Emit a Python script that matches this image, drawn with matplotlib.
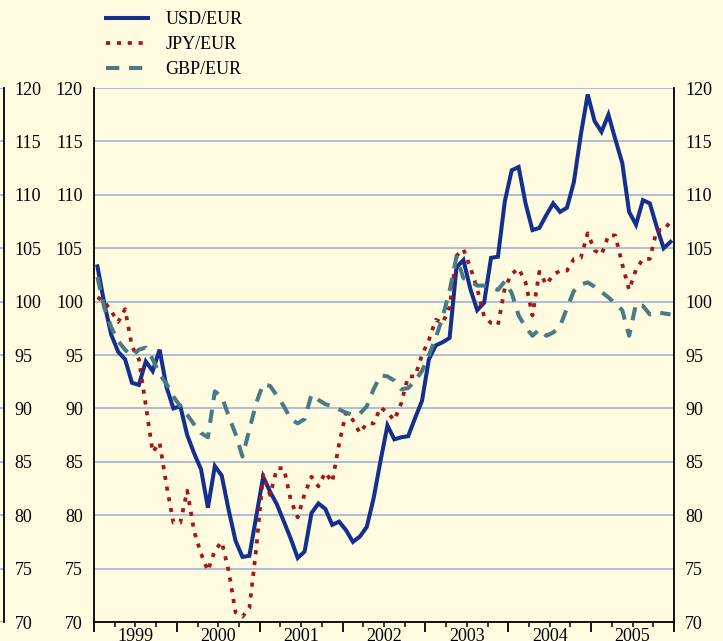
import matplotlib
matplotlib.use("Agg")
import matplotlib.pyplot as plt
import numpy as np

plt.rcParams["font.family"] = ["Liberation Serif", "DejaVu Serif"]
plt.rcParams["font.size"] = 13

# monthly index values, Jan 1999 - Dec 2005 (Q1 1999 = 100)
years = ["1999", "2000", "2001", "2002", "2003", "2004", "2005"]

usd_eur = [103.3, 99.8, 96.9, 95.3, 94.6, 92.4, 92.2, 94.4, 93.5, 95.5, 92.0, 90.0,
           90.2, 87.5, 85.8, 84.3, 80.7, 84.6, 83.7, 80.5, 77.6, 76.1, 76.2, 79.9,
           83.6, 82.2, 81.0, 79.4, 77.8, 76.0, 76.6, 80.2, 81.1, 80.6, 79.1, 79.4,
           78.6, 77.5, 78.0, 78.9, 81.6, 85.1, 88.4, 87.1, 87.3, 87.4, 89.1, 90.7,
           94.6, 95.9, 96.2, 96.6, 103.2, 103.9, 101.2, 99.2, 99.9, 104.1, 104.2, 109.4,
           112.3, 112.6, 109.2, 106.7, 106.9, 108.1, 109.2, 108.4, 108.8, 111.2, 115.6, 119.4,
           116.9, 115.9, 117.5, 115.2, 113.0, 108.4, 107.2, 109.5, 109.2, 107.0, 105.0, 105.6]

jpy_eur = [100.4, 100.0, 99.1, 98.1, 99.3, 95.8, 94.6, 90.3, 85.9, 86.8, 82.8, 79.3,
           79.3, 82.3, 78.5, 76.4, 74.8, 76.7, 77.5, 74.8, 70.9, 70.5, 71.3, 76.9,
           83.8, 81.9, 84.4, 84.4, 81.4, 79.8, 82.0, 83.6, 82.7, 84.0, 83.1, 86.7,
           89.6, 88.9, 87.7, 88.6, 88.6, 90.1, 89.6, 88.9, 90.5, 93.0, 93.0, 95.0,
           96.4, 98.3, 98.0, 99.5, 104.3, 104.9, 103.2, 101.2, 98.6, 98.0, 97.8, 101.3,
           102.6, 103.1, 101.8, 98.7, 102.8, 101.6, 102.5, 102.9, 102.9, 104.0, 104.1, 106.4,
           104.8, 104.4, 106.2, 106.2, 103.5, 101.1, 103.0, 104.0, 104.0, 106.7, 106.7, 107.5]

gbp_eur = [102.3, 99.4, 97.6, 96.3, 95.5, 94.9, 95.5, 95.7, 94.6, 93.2, 92.3, 91.1,
           90.2, 89.4, 88.5, 87.7, 87.3, 91.6, 91.1, 89.3, 87.6, 85.5, 88.0, 90.5,
           92.3, 92.1, 91.2, 90.2, 89.0, 88.6, 89.0, 91.3, 90.8, 90.4, 90.2, 89.9,
           89.6, 89.4, 89.5, 90.2, 91.8, 93.1, 93.0, 92.6, 91.8, 91.9, 92.6, 93.5,
           95.0, 96.6, 98.6, 101.0, 104.2, 102.2, 101.9, 101.5, 101.5, 101.3, 101.1, 101.9,
           100.8, 98.7, 97.6, 96.8, 97.4, 96.8, 97.1, 97.7, 99.4, 101.0, 101.6, 101.8,
           101.4, 100.9, 100.4, 99.8, 99.2, 96.8, 99.8, 99.6, 98.8, 99.0, 98.9, 98.8]

bg = "#fffbe1"
grid_col = "#a9b8d8"
usd_col = "#14308f"
jpy_col = "#a51717"
gbp_col = "#4a7b84"

months = np.arange(len(usd_eur)) + 0.5

fig = plt.figure(figsize=(7.23, 6.41), dpi=100, facecolor=bg)

# right edge of the neighbouring panel, clipped by the figure border
ax0 = fig.add_axes([-0.5, 0.0296, 0.5 + 3.5 / 723, 0.8331], facecolor=bg)
ax0.set_ylim(70, 120)
ax0.set_xlim(0, 1)
ax0.set_yticks(range(70, 121, 5))
ax0.yaxis.tick_right()
ax0.tick_params(axis="y", length=0, pad=8)
ax0.tick_params(axis="x", bottom=False, labelbottom=False)
ax0.grid(axis="y", color=grid_col, lw=1.3)
for side in ["top", "left", "bottom"]:
    ax0.spines[side].set_visible(False)
ax0.spines["right"].set_linewidth(1.3)

ax = fig.add_axes([94 / 723, 0.0296, 580 / 723, 0.8331], facecolor=bg)
ax.plot(months, usd_eur, color=usd_col, lw=2.9, solid_joinstyle="miter", label="USD/EUR")
ax.plot(months, jpy_eur, color=jpy_col, lw=2.7, linestyle=(0, (1.1, 1.8)),
        dash_capstyle="butt", label="JPY/EUR")
ax.plot(months, gbp_eur, color=gbp_col, lw=2.9, linestyle=(0, (3.3, 2.4)),
        dash_capstyle="butt", label="GBP/EUR")

ax.set_xlim(0, 84)
ax.set_ylim(70, 120)
ax.set_yticks(range(70, 121, 5))
ax.grid(axis="y", color=grid_col, lw=1.3, zorder=0)
ax.set_axisbelow(True)
ax.tick_params(axis="y", length=0, pad=8, labelleft=True, labelright=True)

# year boundaries (long ticks) and quarters (short ticks)
ax.set_xticks(range(0, 85, 12))
ax.set_xticks(range(0, 85, 3), minor=True)
ax.tick_params(axis="x", which="major", length=7, width=1.3, labelbottom=False)
ax.tick_params(axis="x", which="minor", length=3.5, width=1.1)

# year labels centred on each year
sec = ax.secondary_xaxis("bottom")
sec.set_xticks([6 + 12 * i for i in range(len(years))], labels=years)
sec.tick_params(length=0, pad=4)
sec.spines["bottom"].set_visible(False)

ax.spines["top"].set_visible(False)
for side in ["left", "right", "bottom"]:
    ax.spines[side].set_linewidth(1.3)

handles, labels = ax.get_legend_handles_labels()
fig.legend(handles, labels, loc="upper left", bbox_to_anchor=(106 / 723, 1 - 11 / 641),
           frameon=False, borderpad=0, borderaxespad=0, handlelength=2.3,
           handletextpad=1.0, labelspacing=0.45, fontsize=13)

fig.savefig("out.png", dpi=100, facecolor=bg)
